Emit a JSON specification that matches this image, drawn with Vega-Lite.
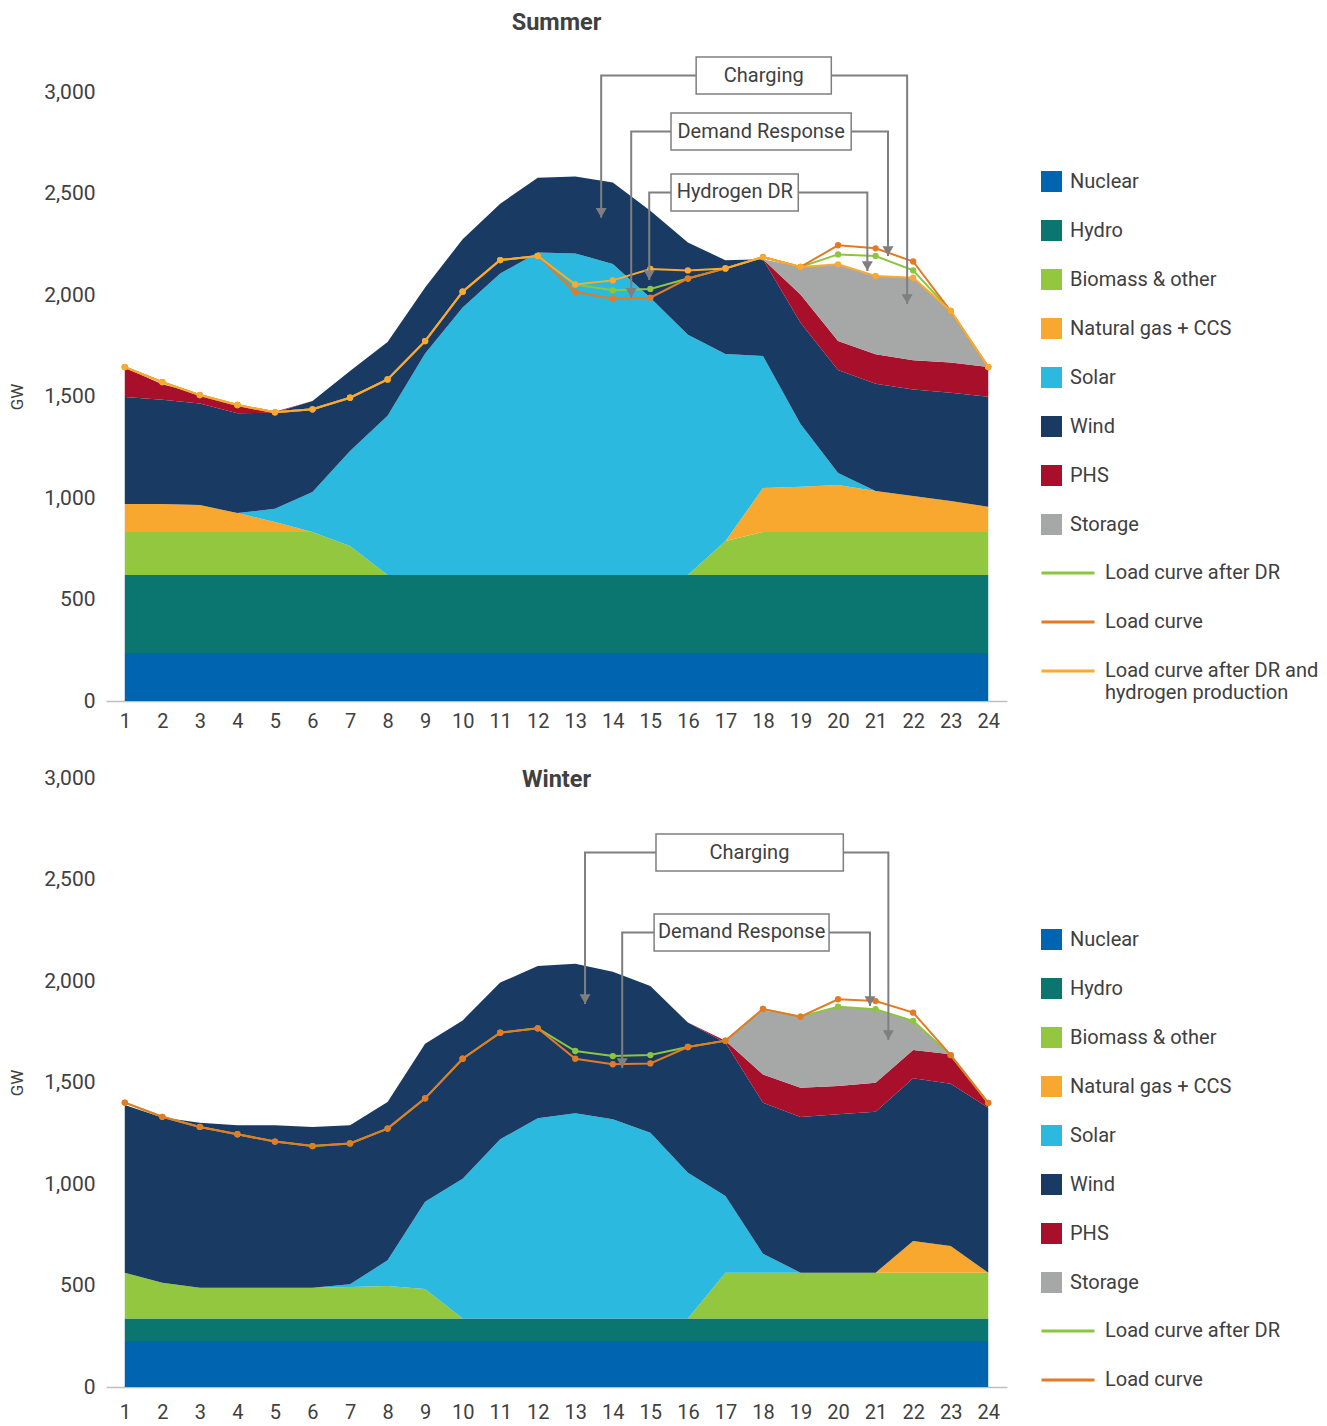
{
  "$schema": "https://vega.github.io/schema/vega-lite/v6.json",
  "padding": {"top": 10, "left": 8, "right": 0, "bottom": 0},
  "spacing": 36,
  "config": {
    "font": "Roboto",
    "view": {"stroke": null},
    "title": {"fontSize": 23.5, "fontWeight": "bold", "color": "#404040", "anchor": "middle"},
    "axis": {"labelFont": "Roboto", "labelFontSize": 20, "labelColor": "#404040", "grid": false, "ticks": false, "tickSize": 0, "domain": false, "titleFont": "Roboto", "titleColor": "#404040"},
    "axisX": {"labelOverlap": false, "labelSeparation": 0},
    "legend": {"labelFont": "Roboto", "labelFontSize": 20, "labelColor": "#404040", "labelLimit": 320, "padding": 0}
  },
  "datasets": {
    "summer": [
      {"h":1,"Nuclear":236,"Hydro":385,"Biomass":211,"Gas":138,"Solar":0,"Wind":528,"PHS":144,"Storage":0,"load":1645,"dr":1645,"h2":1645},
      {"h":2,"Nuclear":236,"Hydro":385,"Biomass":211,"Gas":138,"Solar":0,"Wind":514,"PHS":76,"Storage":0,"load":1571,"dr":1571,"h2":1571},
      {"h":3,"Nuclear":236,"Hydro":385,"Biomass":211,"Gas":133,"Solar":0,"Wind":500,"PHS":46,"Storage":0,"load":1507,"dr":1507,"h2":1507},
      {"h":4,"Nuclear":236,"Hydro":385,"Biomass":211,"Gas":94,"Solar":0,"Wind":492,"PHS":38,"Storage":0,"load":1458,"dr":1458,"h2":1458},
      {"h":5,"Nuclear":236,"Hydro":385,"Biomass":211,"Gas":50,"Solar":65,"Wind":473,"PHS":5,"Storage":0,"load":1422,"dr":1422,"h2":1422},
      {"h":6,"Nuclear":236,"Hydro":385,"Biomass":211,"Gas":0,"Solar":198,"Wind":448,"PHS":0,"Storage":0,"load":1437,"dr":1437,"h2":1437},
      {"h":7,"Nuclear":236,"Hydro":385,"Biomass":142,"Gas":0,"Solar":469,"Wind":394,"PHS":0,"Storage":0,"load":1494,"dr":1494,"h2":1494},
      {"h":8,"Nuclear":236,"Hydro":385,"Biomass":0,"Gas":0,"Solar":784,"Wind":364,"PHS":0,"Storage":0,"load":1584,"dr":1584,"h2":1584},
      {"h":9,"Nuclear":236,"Hydro":385,"Biomass":0,"Gas":0,"Solar":1091,"Wind":325,"PHS":0,"Storage":0,"load":1773,"dr":1773,"h2":1773},
      {"h":10,"Nuclear":236,"Hydro":385,"Biomass":0,"Gas":0,"Solar":1317,"Wind":337,"PHS":0,"Storage":0,"load":2016,"dr":2016,"h2":2016},
      {"h":11,"Nuclear":236,"Hydro":385,"Biomass":0,"Gas":0,"Solar":1485,"Wind":344,"PHS":0,"Storage":0,"load":2172,"dr":2172,"h2":2172},
      {"h":12,"Nuclear":236,"Hydro":385,"Biomass":0,"Gas":0,"Solar":1588,"Wind":368,"PHS":0,"Storage":0,"load":2192,"dr":2192,"h2":2192},
      {"h":13,"Nuclear":236,"Hydro":385,"Biomass":0,"Gas":0,"Solar":1584,"Wind":379,"PHS":0,"Storage":0,"load":2015,"dr":2052,"h2":2052},
      {"h":14,"Nuclear":236,"Hydro":385,"Biomass":0,"Gas":0,"Solar":1532,"Wind":401,"PHS":0,"Storage":0,"load":1982,"dr":2023,"h2":2072},
      {"h":15,"Nuclear":236,"Hydro":385,"Biomass":0,"Gas":0,"Solar":1366,"Wind":428,"PHS":0,"Storage":0,"load":1987,"dr":2030,"h2":2128},
      {"h":16,"Nuclear":236,"Hydro":385,"Biomass":0,"Gas":0,"Solar":1183,"Wind":455,"PHS":0,"Storage":0,"load":2081,"dr":2081,"h2":2121},
      {"h":17,"Nuclear":236,"Hydro":385,"Biomass":167,"Gas":0,"Solar":921,"Wind":462,"PHS":0,"Storage":0,"load":2131,"dr":2131,"h2":2131},
      {"h":18,"Nuclear":236,"Hydro":385,"Biomass":211,"Gas":217,"Solar":651,"Wind":476,"PHS":0,"Storage":0,"load":2187,"dr":2187,"h2":2187},
      {"h":19,"Nuclear":236,"Hydro":385,"Biomass":211,"Gas":224,"Solar":308,"Wind":499,"PHS":140,"Storage":135,"load":2138,"dr":2138,"h2":2138},
      {"h":20,"Nuclear":236,"Hydro":385,"Biomass":211,"Gas":232,"Solar":59,"Wind":507,"PHS":143,"Storage":378,"load":2245,"dr":2200,"h2":2151},
      {"h":21,"Nuclear":236,"Hydro":385,"Biomass":211,"Gas":202,"Solar":0,"Wind":529,"PHS":145,"Storage":386,"load":2230,"dr":2192,"h2":2094},
      {"h":22,"Nuclear":236,"Hydro":385,"Biomass":211,"Gas":178,"Solar":0,"Wind":525,"PHS":143,"Storage":407,"load":2165,"dr":2121,"h2":2085},
      {"h":23,"Nuclear":236,"Hydro":385,"Biomass":211,"Gas":153,"Solar":0,"Wind":534,"PHS":148,"Storage":254,"load":1921,"dr":1921,"h2":1921},
      {"h":24,"Nuclear":236,"Hydro":385,"Biomass":211,"Gas":125,"Solar":0,"Wind":542,"PHS":146,"Storage":0,"load":1645,"dr":1645,"h2":1645}
    ],
    "winter": [
      {"h":1,"Nuclear":227,"Hydro":111,"Biomass":225,"Gas":0,"Solar":0,"Wind":826,"PHS":0,"Storage":0,"load":1401,"dr":1401},
      {"h":2,"Nuclear":227,"Hydro":111,"Biomass":176,"Gas":0,"Solar":0,"Wind":813,"PHS":0,"Storage":0,"load":1331,"dr":1331},
      {"h":3,"Nuclear":227,"Hydro":111,"Biomass":151,"Gas":0,"Solar":0,"Wind":813,"PHS":0,"Storage":0,"load":1281,"dr":1281},
      {"h":4,"Nuclear":227,"Hydro":111,"Biomass":151,"Gas":0,"Solar":0,"Wind":800,"PHS":0,"Storage":0,"load":1245,"dr":1245},
      {"h":5,"Nuclear":227,"Hydro":111,"Biomass":151,"Gas":0,"Solar":0,"Wind":800,"PHS":0,"Storage":0,"load":1209,"dr":1209},
      {"h":6,"Nuclear":227,"Hydro":111,"Biomass":151,"Gas":0,"Solar":0,"Wind":792,"PHS":0,"Storage":0,"load":1187,"dr":1187},
      {"h":7,"Nuclear":227,"Hydro":111,"Biomass":155,"Gas":0,"Solar":13,"Wind":783,"PHS":0,"Storage":0,"load":1200,"dr":1200},
      {"h":8,"Nuclear":227,"Hydro":111,"Biomass":160,"Gas":0,"Solar":126,"Wind":780,"PHS":0,"Storage":0,"load":1273,"dr":1273},
      {"h":9,"Nuclear":227,"Hydro":111,"Biomass":145,"Gas":0,"Solar":430,"Wind":778,"PHS":0,"Storage":0,"load":1422,"dr":1422},
      {"h":10,"Nuclear":227,"Hydro":111,"Biomass":0,"Gas":0,"Solar":688,"Wind":780,"PHS":0,"Storage":0,"load":1617,"dr":1617},
      {"h":11,"Nuclear":227,"Hydro":111,"Biomass":0,"Gas":0,"Solar":882,"Wind":772,"PHS":0,"Storage":0,"load":1745,"dr":1745},
      {"h":12,"Nuclear":227,"Hydro":111,"Biomass":0,"Gas":0,"Solar":986,"Wind":750,"PHS":0,"Storage":0,"load":1767,"dr":1767},
      {"h":13,"Nuclear":227,"Hydro":111,"Biomass":0,"Gas":0,"Solar":1010,"Wind":737,"PHS":0,"Storage":0,"load":1617,"dr":1655},
      {"h":14,"Nuclear":227,"Hydro":111,"Biomass":0,"Gas":0,"Solar":981,"Wind":727,"PHS":0,"Storage":0,"load":1590,"dr":1630},
      {"h":15,"Nuclear":227,"Hydro":111,"Biomass":0,"Gas":0,"Solar":915,"Wind":722,"PHS":0,"Storage":0,"load":1594,"dr":1635},
      {"h":16,"Nuclear":227,"Hydro":111,"Biomass":0,"Gas":0,"Solar":718,"Wind":739,"PHS":0,"Storage":0,"load":1675,"dr":1675},
      {"h":17,"Nuclear":227,"Hydro":111,"Biomass":225,"Gas":0,"Solar":378,"Wind":755,"PHS":10,"Storage":0,"load":1706,"dr":1706},
      {"h":18,"Nuclear":227,"Hydro":111,"Biomass":225,"Gas":0,"Solar":94,"Wind":743,"PHS":140,"Storage":316,"load":1862,"dr":1862},
      {"h":19,"Nuclear":227,"Hydro":111,"Biomass":225,"Gas":0,"Solar":0,"Wind":767,"PHS":144,"Storage":350,"load":1824,"dr":1824},
      {"h":20,"Nuclear":227,"Hydro":111,"Biomass":225,"Gas":0,"Solar":0,"Wind":780,"PHS":140,"Storage":390,"load":1910,"dr":1873},
      {"h":21,"Nuclear":227,"Hydro":111,"Biomass":225,"Gas":0,"Solar":0,"Wind":793,"PHS":143,"Storage":362,"load":1901,"dr":1861},
      {"h":22,"Nuclear":227,"Hydro":111,"Biomass":225,"Gas":156,"Solar":0,"Wind":802,"PHS":139,"Storage":143,"load":1844,"dr":1803},
      {"h":23,"Nuclear":227,"Hydro":111,"Biomass":225,"Gas":132,"Solar":0,"Wind":799,"PHS":145,"Storage":0,"load":1635,"dr":1635},
      {"h":24,"Nuclear":227,"Hydro":111,"Biomass":225,"Gas":0,"Solar":0,"Wind":813,"PHS":17,"Storage":0,"load":1400,"dr":1400}
    ],
    "summerBoxes": [
      {"label":"Charging","x1":16.22,"x2":19.82,"y1":2990,"y2":3172,"xc":18.02,"yc":3081},
      {"label":"Demand Response","x1":15.55,"x2":20.35,"y1":2714,"y2":2897,"xc":17.95,"yc":2805},
      {"label":"Hydrogen DR","x1":15.55,"x2":18.94,"y1":2414,"y2":2596,"xc":17.25,"yc":2505}
    ],
    "summerLinks": [
      {"id":"c1","i":1,"x":16.22,"y":3081,"tip":false},{"id":"c1","i":2,"x":13.69,"y":3081,"tip":false},{"id":"c1","i":3,"x":13.69,"y":2381,"tip":true},
      {"id":"c2","i":1,"x":19.82,"y":3081,"tip":false},{"id":"c2","i":2,"x":21.84,"y":3081,"tip":false},{"id":"c2","i":3,"x":21.84,"y":1956,"tip":true},
      {"id":"d1","i":1,"x":15.55,"y":2805,"tip":false},{"id":"d1","i":2,"x":14.49,"y":2805,"tip":false},{"id":"d1","i":3,"x":14.49,"y":1987,"tip":true},
      {"id":"d2","i":1,"x":20.35,"y":2805,"tip":false},{"id":"d2","i":2,"x":21.33,"y":2805,"tip":false},{"id":"d2","i":3,"x":21.33,"y":2192,"tip":true},
      {"id":"g1","i":1,"x":15.55,"y":2505,"tip":false},{"id":"g1","i":2,"x":14.97,"y":2505,"tip":false},{"id":"g1","i":3,"x":14.97,"y":2074,"tip":true},
      {"id":"g2","i":1,"x":18.94,"y":2505,"tip":false},{"id":"g2","i":2,"x":20.78,"y":2505,"tip":false},{"id":"g2","i":3,"x":20.78,"y":2118,"tip":true}
    ],
    "winterBoxes": [
      {"label":"Charging","x1":15.15,"x2":20.14,"y1":2542,"y2":2724,"xc":17.64,"yc":2633},
      {"label":"Demand Response","x1":15.10,"x2":19.76,"y1":2148,"y2":2330,"xc":17.43,"yc":2239}
    ],
    "winterLinks": [
      {"id":"c1","i":1,"x":15.15,"y":2633,"tip":false},{"id":"c1","i":2,"x":13.26,"y":2633,"tip":false},{"id":"c1","i":3,"x":13.26,"y":1887,"tip":true},
      {"id":"c2","i":1,"x":20.14,"y":2633,"tip":false},{"id":"c2","i":2,"x":21.34,"y":2633,"tip":false},{"id":"c2","i":3,"x":21.34,"y":1709,"tip":true},
      {"id":"d1","i":1,"x":15.10,"y":2239,"tip":false},{"id":"d1","i":2,"x":14.25,"y":2239,"tip":false},{"id":"d1","i":3,"x":14.25,"y":1571,"tip":true},
      {"id":"d2","i":1,"x":19.76,"y":2239,"tip":false},{"id":"d2","i":2,"x":20.85,"y":2239,"tip":false},{"id":"d2","i":3,"x":20.85,"y":1877,"tip":true}
    ]
  },
  "resolve": {"scale": {"fill": "independent", "color": "independent", "x": "independent", "y": "independent"}, "legend": {"fill": "independent", "color": "independent"}},
  "vconcat": [
    {
      "width": 901, "height": 609,
      "title": {"text": "Summer", "offset": 22},
      "layer": [
        {
          "data": {"name": "summer"},
          "transform": [
            {"fold": ["Nuclear","Hydro","Biomass","Gas","Solar","Wind","PHS","Storage"], "as": ["src","gw"]},
            {"calculate": "indexof(['Nuclear','Hydro','Biomass','Gas','Solar','Wind','PHS','Storage'], datum.src)", "as": "ord"}
          ],
          "mark": {"type": "area", "interpolate": "linear"},
          "encoding": {
            "x": {"field": "h", "type": "quantitative", "scale": {"domain": [0.5, 24.5], "nice": false, "zero": false},
                  "axis": {"title": null, "values": [1,2,3,4,5,6,7,8,9,10,11,12,13,14,15,16,17,18,19,20,21,22,23,24], "tickCount": 48, "format": "d", "labelOverlap": false, "labelBound": false, "domain": true, "domainColor": "#BFBFBF", "domainWidth": 1.5, "labelPadding": 10, "labelFlush": false}},
            "y": {"field": "gw", "type": "quantitative", "stack": "zero", "scale": {"domain": [0, 3000], "nice": false},
                  "axis": {"title": "GW", "titleFontSize": 17, "titleFontWeight": "normal", "titlePadding": 17.5, "values": [0,500,1000,1500,2000,2500,3000], "format": ",.0f", "labelFontSize": 21, "labelPadding": 11}},
            "fill": {"field": "src", "type": "nominal",
                     "scale": {"domain": ["Nuclear","Hydro","Biomass","Gas","Solar","Wind","PHS","Storage"], "range": ["#0064B0","#0B756F","#92C73F","#F9A82F","#2BB9DF","#183A63","#A80F2A","#A6A8A7"]},
                     "legend": {"orient": "none", "legendX": 935, "legendY": 79, "title": null, "symbolType": "square", "symbolSize": 441, "symbolStrokeWidth": 0, "symbolOpacity": 1, "rowPadding": 28, "labelOffset": 8,
                                "labelExpr": "datum.label == 'Biomass' ? 'Biomass & other' : datum.label == 'Gas' ? 'Natural gas + CCS' : datum.label"}},
            "order": {"field": "ord", "type": "quantitative"}
          }
        },
        {
          "data": {"name": "summer"},
          "mark": {"type": "line", "strokeWidth": 2, "point": {"filled": true, "size": 40}},
          "encoding": {
            "x": {"field": "h", "type": "quantitative"},
            "y": {"field": "dr", "type": "quantitative"},
            "color": {"datum": "Load curve after DR",
                      "scale": {"domain": ["Load curve after DR","Load curve","Load curve after DR and hydrogen production"], "range": ["#8CC63F","#E57A25","#FBAA31"]},
                      "legend": {"orient": "none", "legendX": 934, "legendY": 453, "title": null, "symbolType": "stroke", "symbolSize": 2809, "symbolStrokeWidth": 3, "rowPadding": 11, "labelOffset": 9,
                                 "labelExpr": "datum.label == 'Load curve after DR and hydrogen production' ? ['Load curve after DR and', 'hydrogen production'] : datum.label"}}
          }
        },
        {
          "data": {"name": "summer"},
          "mark": {"type": "line", "strokeWidth": 2, "point": {"filled": true, "size": 40}},
          "encoding": {
            "x": {"field": "h", "type": "quantitative"},
            "y": {"field": "load", "type": "quantitative"},
            "color": {"datum": "Load curve"}
          }
        },
        {
          "data": {"name": "summer"},
          "mark": {"type": "line", "strokeWidth": 2, "point": {"filled": true, "size": 40}},
          "encoding": {
            "x": {"field": "h", "type": "quantitative"},
            "y": {"field": "h2", "type": "quantitative"},
            "color": {"datum": "Load curve after DR and hydrogen production"}
          }
        },
        {
          "data": {"name": "summerLinks"},
          "mark": {"type": "line", "color": "#7F7F7F", "strokeWidth": 2},
          "encoding": {
            "x": {"field": "x", "type": "quantitative"},
            "y": {"field": "y", "type": "quantitative"},
            "detail": {"field": "id"},
            "order": {"field": "i", "type": "quantitative"}
          }
        },
        {
          "data": {"name": "summerLinks"},
          "transform": [{"filter": "datum.tip"}],
          "mark": {"type": "point", "shape": "triangle-down", "filled": true, "color": "#7F7F7F", "opacity": 1, "size": 121, "yOffset": -5},
          "encoding": {
            "x": {"field": "x", "type": "quantitative"},
            "y": {"field": "y", "type": "quantitative"}
          }
        },
        {
          "data": {"name": "summerBoxes"},
          "mark": {"type": "rect", "fill": "white", "stroke": "#7F7F7F", "strokeWidth": 1.5},
          "encoding": {
            "x": {"field": "x1", "type": "quantitative"}, "x2": {"field": "x2"},
            "y": {"field": "y1", "type": "quantitative"}, "y2": {"field": "y2"}
          }
        },
        {
          "data": {"name": "summerBoxes"},
          "mark": {"type": "text", "fontSize": 20, "color": "#404040", "align": "center", "baseline": "middle"},
          "encoding": {
            "x": {"field": "xc", "type": "quantitative"},
            "y": {"field": "yc", "type": "quantitative"},
            "text": {"field": "label"}
          }
        }
      ]
    },
    {
      "width": 901, "height": 609,
      "title": {"text": "Winter", "offset": -24},
      "layer": [
        {
          "data": {"name": "winter"},
          "transform": [
            {"fold": ["Nuclear","Hydro","Biomass","Gas","Solar","Wind","PHS","Storage"], "as": ["src","gw"]},
            {"calculate": "indexof(['Nuclear','Hydro','Biomass','Gas','Solar','Wind','PHS','Storage'], datum.src)", "as": "ord"}
          ],
          "mark": {"type": "area", "interpolate": "linear"},
          "encoding": {
            "x": {"field": "h", "type": "quantitative", "scale": {"domain": [0.5, 24.5], "nice": false, "zero": false},
                  "axis": {"title": null, "values": [1,2,3,4,5,6,7,8,9,10,11,12,13,14,15,16,17,18,19,20,21,22,23,24], "tickCount": 48, "format": "d", "labelOverlap": false, "labelBound": false, "domain": true, "domainColor": "#BFBFBF", "domainWidth": 1.5, "labelPadding": 15, "labelFlush": false}},
            "y": {"field": "gw", "type": "quantitative", "stack": "zero", "scale": {"domain": [0, 3000], "nice": false},
                  "axis": {"title": "GW", "titleFontSize": 17, "titleFontWeight": "normal", "titlePadding": 17.5, "values": [0,500,1000,1500,2000,2500,3000], "format": ",.0f", "labelFontSize": 21, "labelPadding": 11}},
            "fill": {"field": "src", "type": "nominal",
                     "scale": {"domain": ["Nuclear","Hydro","Biomass","Gas","Solar","Wind","PHS","Storage"], "range": ["#0064B0","#0B756F","#92C73F","#F9A82F","#2BB9DF","#183A63","#A80F2A","#A6A8A7"]},
                     "legend": {"orient": "none", "legendX": 935, "legendY": 151, "title": null, "symbolType": "square", "symbolSize": 441, "symbolStrokeWidth": 0, "symbolOpacity": 1, "rowPadding": 28, "labelOffset": 8,
                                "labelExpr": "datum.label == 'Biomass' ? 'Biomass & other' : datum.label == 'Gas' ? 'Natural gas + CCS' : datum.label"}},
            "order": {"field": "ord", "type": "quantitative"}
          }
        },
        {
          "data": {"name": "winter"},
          "mark": {"type": "line", "strokeWidth": 2, "point": {"filled": true, "size": 40}},
          "encoding": {
            "x": {"field": "h", "type": "quantitative"},
            "y": {"field": "dr", "type": "quantitative"},
            "color": {"datum": "Load curve after DR",
                      "scale": {"domain": ["Load curve after DR","Load curve"], "range": ["#8CC63F","#E57A25"]},
                      "legend": {"orient": "none", "legendX": 934, "legendY": 525, "title": null, "symbolType": "stroke", "symbolSize": 2809, "symbolStrokeWidth": 3, "rowPadding": 11, "labelOffset": 9}}
          }
        },
        {
          "data": {"name": "winter"},
          "mark": {"type": "line", "strokeWidth": 2, "point": {"filled": true, "size": 40}},
          "encoding": {
            "x": {"field": "h", "type": "quantitative"},
            "y": {"field": "load", "type": "quantitative"},
            "color": {"datum": "Load curve"}
          }
        },
        {
          "data": {"name": "winterLinks"},
          "mark": {"type": "line", "color": "#7F7F7F", "strokeWidth": 2},
          "encoding": {
            "x": {"field": "x", "type": "quantitative"},
            "y": {"field": "y", "type": "quantitative"},
            "detail": {"field": "id"},
            "order": {"field": "i", "type": "quantitative"}
          }
        },
        {
          "data": {"name": "winterLinks"},
          "transform": [{"filter": "datum.tip"}],
          "mark": {"type": "point", "shape": "triangle-down", "filled": true, "color": "#7F7F7F", "opacity": 1, "size": 121, "yOffset": -5},
          "encoding": {
            "x": {"field": "x", "type": "quantitative"},
            "y": {"field": "y", "type": "quantitative"}
          }
        },
        {
          "data": {"name": "winterBoxes"},
          "mark": {"type": "rect", "fill": "white", "stroke": "#7F7F7F", "strokeWidth": 1.5},
          "encoding": {
            "x": {"field": "x1", "type": "quantitative"}, "x2": {"field": "x2"},
            "y": {"field": "y1", "type": "quantitative"}, "y2": {"field": "y2"}
          }
        },
        {
          "data": {"name": "winterBoxes"},
          "mark": {"type": "text", "fontSize": 20, "color": "#404040", "align": "center", "baseline": "middle"},
          "encoding": {
            "x": {"field": "xc", "type": "quantitative"},
            "y": {"field": "yc", "type": "quantitative"},
            "text": {"field": "label"}
          }
        }
      ]
    }
  ]
}
